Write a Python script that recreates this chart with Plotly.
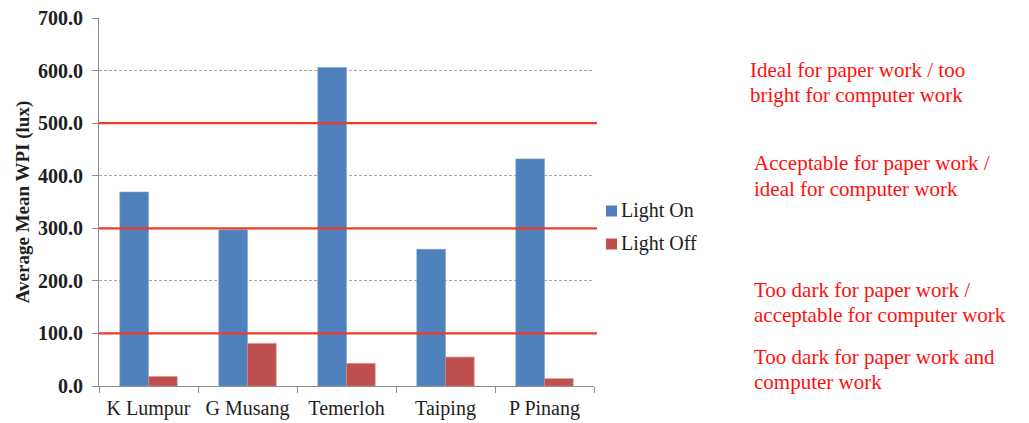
import plotly.graph_objects as go

# Average working-plane illuminance per site
sites = ["K Lumpur", "G Musang", "Temerloh", "Taiping", "P Pinang"]
light_on = [369, 297, 606, 260, 432]
light_off = [18, 81, 43, 55, 14]
series_names = ["Light On", "Light Off"]

# Illuminance thresholds (lux) separating the suitability bands
thresholds = [100, 300, 500]
band_labels = [
    ["Ideal for paper work / too", "bright for computer work"],
    ["Acceptable for paper work /", "ideal for computer work"],
    ["Too dark for paper work /", "acceptable for computer work"],
    ["Too dark for paper work and", "computer work"],
]

y_ticks = [0, 100, 200, 300, 400, 500, 600, 700]

SERIF = "Liberation Serif, Times New Roman, serif"
BLUE = "#4F81BD"
RED = "#C0504D"
LINE_RED = "#F23A28"
TEXT_RED = "#FF1010"
INK = "#1E1E1E"

# plot-area geometry in pixels
W, H = 1029, 423
L, R, T, B = 99, 435, 18, 37
PW, PH = W - L - R, H - T - B


def px_x(x):
    return (x - L) / PW


def px_y(y):
    return (H - B - y) / PH


fig = go.Figure()
fig.add_trace(go.Bar(
    x=sites, y=light_on, name=series_names[0],
    marker=dict(color=BLUE, line=dict(color="#7FA3D0", width=0.6)),
    showlegend=False,
))
fig.add_trace(go.Bar(
    x=sites, y=light_off, name=series_names[1],
    marker=dict(color=RED, line=dict(color="#D88A87", width=0.6)),
    showlegend=False,
))

for t in thresholds:
    fig.add_shape(
        type="line", xref="paper", yref="y",
        x0=0, x1=1.006, y0=t, y1=t,
        line=dict(color=LINE_RED, width=2.2),
        layer="above",
    )

# legend: colour swatch + series name
for name, color, cy in zip(series_names, [BLUE, RED], [211, 244]):
    fig.add_shape(
        type="rect", xref="paper", yref="paper",
        x0=px_x(606), x1=px_x(617), y0=px_y(cy + 5.5), y1=px_y(cy - 5.5),
        fillcolor=color, line=dict(width=0),
    )
    fig.add_annotation(
        text=name, xref="paper", yref="paper",
        x=px_x(619), y=px_y(cy), xanchor="left", yanchor="middle",
        showarrow=False, font=dict(family=SERIF, size=20, color=INK),
    )

# suitability band descriptions, one annotation per line
band_line_y = [[70, 95], [163, 189], [290, 315], [357, 382]]
band_x = [748, 752, 752, 752]
for lines, ys, bx in zip(band_labels, band_line_y, band_x):
    for text, ly in zip(lines, ys):
        fig.add_annotation(
            text=text, xref="paper", yref="paper",
            x=px_x(bx), y=px_y(ly), xanchor="left", yanchor="middle",
            showarrow=False,
            font=dict(family=SERIF, size=21, color=TEXT_RED),
        )

fig.update_layout(
    width=W, height=H,
    margin=dict(l=L, r=R, t=T, b=B, autoexpand=False),
    paper_bgcolor="white", plot_bgcolor="white",
    barmode="group", bargap=0.42, bargroupgap=0,
    font=dict(family=SERIF, size=20, color=INK),
    showlegend=False,
)

fig.update_xaxes(
    automargin=False,
    showline=True, linecolor="#8C8C8C", linewidth=1,
    ticks="outside", tickson="boundaries", ticklen=6, tickcolor="#8C8C8C",
    showgrid=False, ticklabelstandoff=4,
    tickfont=dict(family=SERIF, size=20, color=INK),
)

fig.update_yaxes(
    automargin=False,
    range=[0, 700], tickvals=y_ticks,
    ticktext=[f"{v:.1f}" for v in y_ticks],
    showline=True, linecolor="#8C8C8C", linewidth=1,
    ticks="outside", ticklen=6, tickcolor="#8C8C8C",
    showgrid=True, gridcolor="#A6A6A6", griddash="3px,2px", gridwidth=1,
    zeroline=False, ticklabelstandoff=5,
    tickfont=dict(family=SERIF, size=20, color=INK, weight="bold"),
    title=dict(text="<b>Average Mean WPI (lux)</b>", standoff=3,
               font=dict(family=SERIF, size=19, color=INK)),
)

fig.write_html("out.html")
